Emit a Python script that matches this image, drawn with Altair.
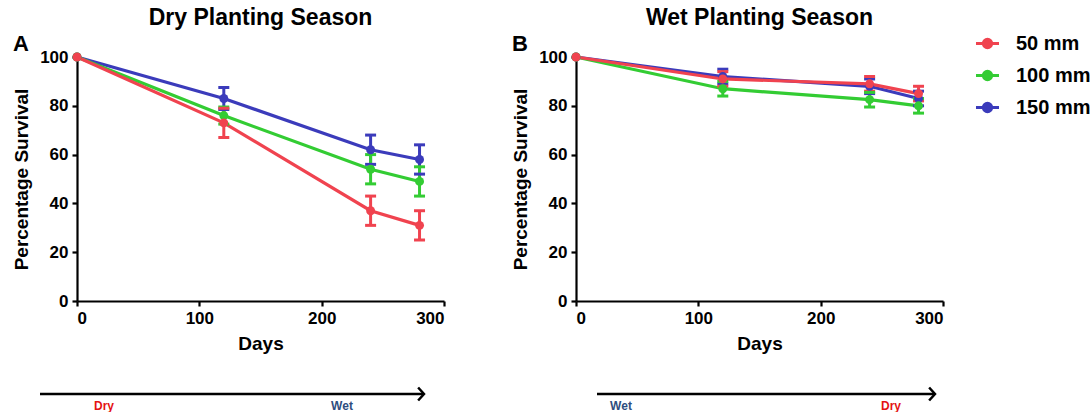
import altair as alt
import pandas as pd

# ---------------- data ----------------
days = [0, 120, 240, 280]
series_order = ["50 mm", "100 mm", "150 mm"]
series_colors = ["#f0434f", "#33cc33", "#3b3bbb"]

# Dry planting season (panel A)
dry_50 = [100, 73, 37, 31]
dry_50_err = [0, 6, 6, 6]
dry_100 = [100, 76, 54, 49]
dry_100_err = [0, 3.5, 6, 6]
dry_150 = [100, 83, 62, 58]
dry_150_err = [0, 4.5, 6, 6]

# Wet planting season (panel B)
wet_50 = [100, 91, 89, 85]
wet_50_err = [0, 3, 3, 3]
wet_100 = [100, 87, 82.5, 80]
wet_100_err = [0, 3, 3, 3]
wet_150 = [100, 92, 88, 83]
wet_150_err = [0, 3, 3, 3]

FONT = "Liberation Sans"
W, H = 367, 244


def make_df(vals):
    rows = []
    # draw order: 150 (blue), 100 (green), 50 (red) on top
    for name, v, e in vals:
        for d, y, err in zip(days, v, e):
            rows.append({"day": d, "val": y, "err": err, "lo": y - err, "hi": y + err,
                         "series": name})
    return pd.DataFrame(rows)


df_dry = make_df([("150 mm", dry_150, dry_150_err), ("100 mm", dry_100, dry_100_err),
                  ("50 mm", dry_50, dry_50_err)])
df_wet = make_df([("150 mm", wet_150, wet_150_err), ("100 mm", wet_100, wet_100_err),
                  ("50 mm", wet_50, wet_50_err)])

one = pd.DataFrame({"a": [0]})

LEGEND = alt.Legend(title=None, orient="none", legendX=897, legendY=-27,
                    symbolType="M-1,0L1,0M0.36,0A0.36,0.36 0 1 1 -0.36,0A0.36,0.36 0 1 1 0.36,0Z",
                    symbolSize=530, symbolStrokeWidth=3, labelFontSize=20,
                    labelFont=FONT, labelFontWeight="bold", rowPadding=8,
                    labelOffset=15, labelColor="black")


def panel(df, title, letter, left_txt, left_col, right_txt, right_col,
          ax0, ax1, lx0, lx1):
    x = alt.X("day:Q", scale=alt.Scale(domain=[0, 300], nice=False),
              axis=alt.Axis(values=[0, 100, 200, 300], title="Days"))
    y = alt.Y("val:Q", scale=alt.Scale(domain=[0, 100], nice=False),
              axis=alt.Axis(values=[0, 20, 40, 60, 80, 100], title="Percentage Survival"))
    color = alt.Color("series:N", scale=alt.Scale(domain=series_order, range=series_colors),
                      legend=LEGEND)
    base = alt.Chart(df)
    lines = base.mark_line(strokeWidth=3.2).encode(x=x, y=y, color=color)
    ebase = base.transform_filter("datum.err > 0")
    rules = ebase.mark_rule(strokeWidth=3, opacity=1).encode(
        x="day:Q", y="lo:Q", y2="hi:Q", color=color)
    cap_lo = ebase.mark_tick(orient="horizontal", size=11, thickness=3, opacity=1).encode(
        x="day:Q", y="lo:Q", color=color)
    cap_hi = ebase.mark_tick(orient="horizontal", size=11, thickness=3, opacity=1).encode(
        x="day:Q", y="hi:Q", color=color)
    pts = base.mark_point(filled=True, size=80, opacity=1).encode(x=x, y=y, color=color)

    ann = alt.Chart(one)
    ttl = ann.mark_text(text=title, font=FONT, fontWeight="bold", fontSize=23,
                        color="black").encode(x=alt.value(W / 2), y=alt.value(-39))
    let = ann.mark_text(text=letter, font=FONT, fontWeight="bold", fontSize=22,
                        color="black").encode(x=alt.value(-56), y=alt.value(-13))
    arrow = ann.mark_rule(strokeWidth=2.5, color="black").encode(
        x=alt.value(ax0), x2=alt.value(ax1), y=alt.value(337))
    head = ann.mark_point(shape="M-0.9,-1L0,0L-0.9,1", filled=False, size=170, strokeWidth=2.5,
                          color="black", opacity=1).encode(x=alt.value(ax1), y=alt.value(337))
    t1 = ann.mark_text(text=left_txt, font=FONT, fontWeight="bold",
                       fontSize=12, color=left_col).encode(x=alt.value(lx0), y=alt.value(349))
    t2 = ann.mark_text(text=right_txt, font=FONT, fontWeight="bold",
                       fontSize=12, color=right_col).encode(x=alt.value(lx1), y=alt.value(349))

    return alt.layer(lines, rules, cap_lo, cap_hi, pts, ttl, let, arrow, head, t1, t2).properties(
        width=W, height=H)


RED = "#e41313"
BLUE = "#2f4e7e"
pa = panel(df_dry, "Dry Planting Season", "A", "Dry", RED, "Wet", BLUE,
           -37, 347, 27, 265)
pb = panel(df_wet, "Wet Planting Season", "B", "Wet", BLUE, "Dry", RED,
           21, 359, 45, 315)

chart = alt.hconcat(pa, pb, spacing=65).resolve_scale(color="shared").properties(
    padding={"left": 12, "top": 7, "right": 0, "bottom": 0}
).configure_view(stroke=None).configure_axis(
    domainColor="black", domainWidth=2.2, tickColor="black", tickWidth=2.2, tickSize=5,
    labelFont=FONT, labelFontWeight="bold", labelFontSize=17, labelColor="black",
    titleFont=FONT, titleFontWeight="bold", titleFontSize=19, titleColor="black",
    grid=False, labelPadding=4, titlePadding=8
).configure_legend(padding=0)

chart.save("out.html", embed_options={"renderer": "svg", "actions": False})
